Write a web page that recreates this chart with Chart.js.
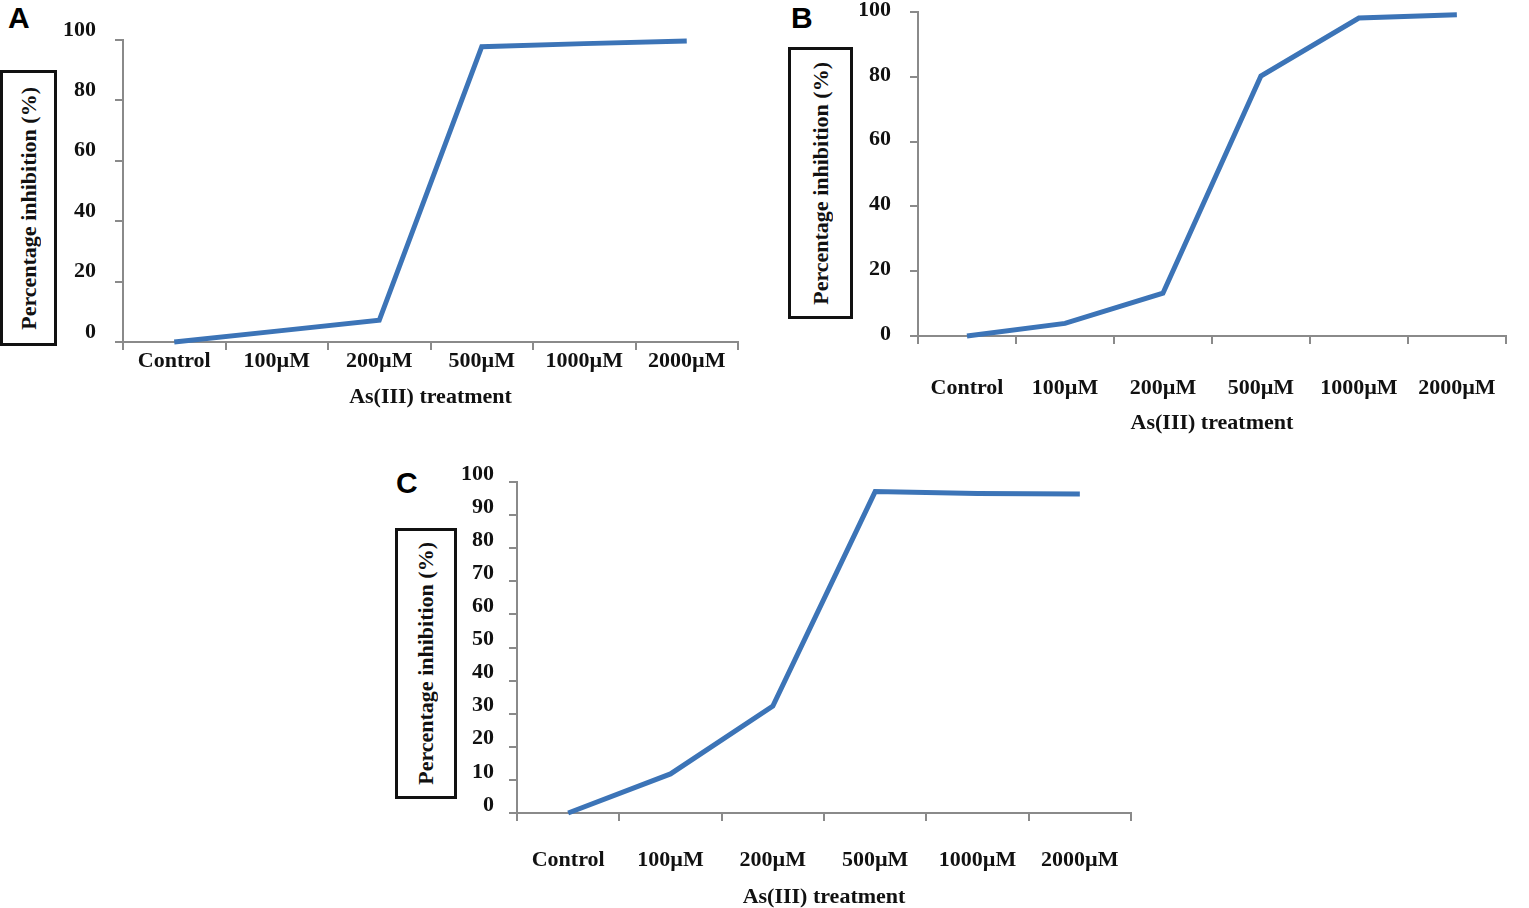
<!DOCTYPE html>
<html>
<head>
<meta charset="utf-8">
<title>As(III) treatment - percentage inhibition</title>
<script src="https://cdn.jsdelivr.net/npm/chart.js@4.4.1/dist/chart.umd.min.js"></script>
<style>
  html, body { margin: 0; padding: 0; background: #fff; }
  body { width: 1529px; height: 908px; position: relative; overflow: hidden; }
  .panel { position: absolute; }
  .letter {
    position: absolute;
    font-family: 'Liberation Sans', Arial, sans-serif;
    font-weight: bold;
    font-size: 30px;
    line-height: 30px;
    color: #000;
  }
  .ybox {
    position: absolute;
    box-sizing: border-box;
    border: 3px solid #111;
    display: flex;
    align-items: center;
    justify-content: center;
  }
  .ybox span {
    writing-mode: vertical-rl;
    transform: rotate(180deg);
    font-family: 'Liberation Serif', 'Times New Roman', serif;
    font-weight: bold;
    font-size: 22px;
    color: #111;
    white-space: nowrap;
  }
</style>
</head>
<body>

<div class="letter" style="left:8px; top:3px;">A</div>
<div class="letter" style="left:791px; top:3px;">B</div>
<div class="letter" style="left:396px; top:468px;">C</div>

<div class="ybox" style="left:0px; top:70px; width:57px; height:276px;"><span>Percentage inhibition (%)</span></div>
<div class="ybox" style="left:788px; top:47px; width:65px; height:272px;"><span>Percentage inhibition (%)</span></div>
<div class="ybox" style="left:395px; top:528px; width:62px; height:271px;"><span>Percentage inhibition (%)</span></div>

<div class="panel" style="left:60px; top:-20px; width:700px; height:440px;"><canvas id="chartA"></canvas></div>
<div class="panel" style="left:860px; top:-20px; width:669px; height:466px;"><canvas id="chartB"></canvas></div>
<div class="panel" style="left:460px; top:440px; width:700px; height:480px;"><canvas id="chartC"></canvas></div>

<script>
// values
const categories = ['Control', '100µM', '200µM', '500µM', '1000µM', '2000µM'];
const inhibitionA = [0, 3.6, 7.2, 97.8, 98.8, 99.7];
const inhibitionB = [0, 3.9, 13.2, 80.3, 98.2, 99.2];
const inhibitionC = [0, 11.8, 32.3, 97.1, 96.5, 96.4];
const yTicksAB = [0, 20, 40, 60, 80, 100];
const yTicksC = [0, 10, 20, 30, 40, 50, 60, 70, 80, 90, 100];
const xTitle = 'As(III) treatment';

const serif = "'Liberation Serif', 'Times New Roman', serif";
const axisGrey = '#8a8a8a';
const lineBlue = '#3c74b7';

function makePanel(opts) {
  const ctx = document.getElementById(opts.id).getContext('2d');
  return new Chart(ctx, {
    type: 'line',
    data: {
      labels: categories,
      datasets: [{
        data: opts.values,
        borderColor: lineBlue,
        borderWidth: 5,
        borderCapStyle: 'butt',
        borderJoinStyle: 'miter',
        pointRadius: 0,
        tension: 0,
        fill: false,
        clip: false
      }]
    },
    options: {
      responsive: true,
      maintainAspectRatio: false,
      animation: false,
      layout: {
        padding: { top: opts.padTop, right: opts.padRight, left: 0, bottom: 0 }
      },
      plugins: {
        legend: { display: false },
        tooltip: { enabled: false },
        title: { display: false }
      },
      scales: {
        x: {
          type: 'category',
          offset: true,
          grid: {
            offset: true,
            drawOnChartArea: false,
            drawTicks: true,
            tickLength: 8,
            color: axisGrey,
            lineWidth: 2
          },
          border: { display: true, color: axisGrey, width: 2 },
          ticks: {
            color: '#111',
            padding: opts.xLabelPad,
            maxRotation: 0,
            autoSkip: false,
            font: { family: serif, size: 22, weight: 'bold', lineHeight: 1 }
          },
          title: {
            display: true,
            text: xTitle,
            color: '#111',
            padding: { top: 0, bottom: 12 },
            font: { family: serif, size: 22, weight: 'bold', lineHeight: 1 }
          },
          afterFit: (scale) => { scale.height = opts.xHeight; }
        },
        y: {
          min: 0,
          max: 100,
          grid: {
            drawOnChartArea: false,
            drawTicks: true,
            tickLength: 8,
            color: axisGrey,
            lineWidth: 2
          },
          border: { display: true, color: axisGrey, width: 2 },
          ticks: {
            color: '#111',
            padding: opts.yLabelPad,
            labelOffset: opts.yLabelOffset,
            font: { family: serif, size: 22, weight: 'bold' }
          },
          afterBuildTicks: (scale) => {
            scale.ticks = opts.yTicks.map(v => ({ value: v }));
          },
          afterFit: (scale) => { scale.width = opts.yWidth; }
        }
      }
    }
  });
}

makePanel({ id: 'chartA', values: inhibitionA, yTicks: yTicksAB,
  yWidth: 63, xHeight: 78, padTop: 60, padRight: 22,
  yLabelOffset: -10, yLabelPad: 19, xLabelPad: 0 });

makePanel({ id: 'chartB', values: inhibitionB, yTicks: yTicksAB,
  yWidth: 58, xHeight: 110, padTop: 28, padRight: 5,
  yLabelOffset: -2, yLabelPad: 19, xLabelPad: 33 });

makePanel({ id: 'chartC', values: inhibitionC, yTicks: yTicksC,
  yWidth: 57, xHeight: 107, padTop: 42, padRight: 29,
  yLabelOffset: -8, yLabelPad: 15, xLabelPad: 28 });
</script>
</body>
</html>
